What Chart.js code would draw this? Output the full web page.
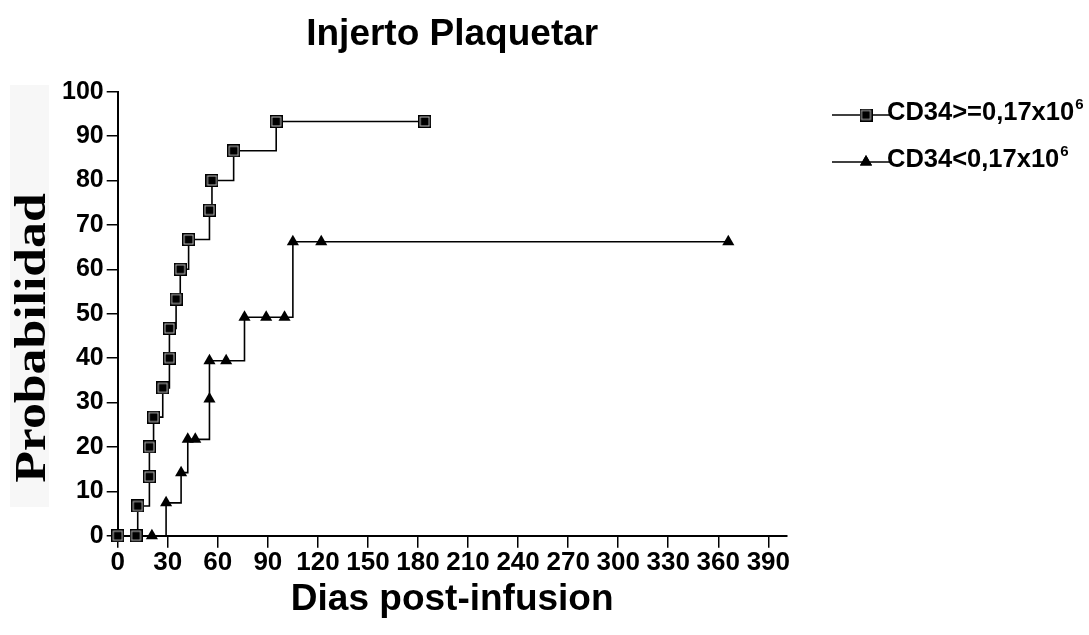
<!DOCTYPE html>
<html>
<head>
<meta charset="utf-8">
<script src="https://cdn.jsdelivr.net/npm/chart.js@4.4.0/dist/chart.umd.min.js"></script>
<style>
  html, body { margin: 0; padding: 0; background: #fff; }
  #wrap { width: 1089px; height: 635px; }
</style>
</head>
<body>
<div id="wrap"><canvas id="myChart"></canvas></div>
<script>
// Kaplan-Meier style curves
const daysHigh = [0, 11, 12, 19, 19, 21.5, 27, 31, 31, 35, 37.5, 42.5, 55, 56.5, 69.5, 95, 184];
const probHigh = [0, 0, 6.7, 13.3, 20, 26.7, 33.3, 40, 46.7, 53.3, 60, 66.7, 73.3, 80, 86.7, 93.3, 93.3];
const daysLow = [0, 20.5, 29, 38, 42, 46.5, 55, 55, 65, 76, 89, 100, 105, 122, 366];
const probLow = [0, 0, 7.4, 14.2, 21.7, 21.7, 30.8, 39.4, 39.4, 49.2, 49.2, 49.2, 66.2, 66.2, 66.2];
const seriesNames = ["CD34>=0,17x10", "CD34<0,17x10"];
const seriesSup = "6";
const chartTitle = "Injerto Plaquetar";
const xTitle = "Dias post-infusion";
const yTitle = "Probabilidad";

const sans = "'Liberation Sans', Arial, sans-serif";
const serif = "'Liberation Serif', 'Times New Roman', serif";

// square marker: black box with a faint white inner ring
function squareMarker() {
  const c = document.createElement("canvas");
  c.width = 13;
  c.height = 13;
  const g = c.getContext("2d");
  g.fillStyle = "#000";
  g.fillRect(0, 0, 13, 13);
  g.strokeStyle = "rgba(255,255,255,0.75)";
  g.lineWidth = 1;
  g.strokeRect(2, 2, 9, 9);
  return c;
}
const sqImg = squareMarker();

const toPoints = (xs, ys) => xs.map((x, i) => ({ x, y: ys[i] }));

const yTitlePlugin = {
  id: "yTitleBox",
  beforeDraw(chart) {
    const { ctx } = chart;
    ctx.save();
    ctx.fillStyle = "#f7f7f7";
    ctx.fillRect(10, 85, 39, 422);
    ctx.translate(45, 338);
    ctx.rotate(-Math.PI / 2);
    ctx.scale(1.15, 1);
    ctx.font = "bold 45px " + serif;
    ctx.fillStyle = "#000";
    ctx.textAlign = "center";
    ctx.textBaseline = "alphabetic";
    ctx.fillText(yTitle, 0, 0);
    ctx.restore();
  },
};

const legendPlugin = {
  id: "sideLegend",
  afterDraw(chart) {
    const { ctx } = chart;
    ctx.save();
    chart.data.datasets.forEach((ds, i) => {
      const y = 115 + i * 47;
      ctx.strokeStyle = "#000";
      ctx.lineWidth = 1.5;
      ctx.beginPath();
      ctx.moveTo(832, y);
      ctx.lineTo(890, y);
      ctx.stroke();
      ctx.fillStyle = "#000";
      Chart.helpers.drawPoint(ctx, {
        pointStyle: ds.pointStyle,
        radius: ds.pointRadius,
        borderWidth: 0,
        rotation: 0,
      }, 866, y);
      if (ds.pointStyle === "triangle") ctx.fill();
      ctx.font = "bold 25.5px " + sans;
      ctx.textAlign = "left";
      ctx.textBaseline = "alphabetic";
      ctx.fillText(ds.label, 887, y + 5);
      const w = ctx.measureText(ds.label).width;
      ctx.font = "bold 15px " + sans;
      ctx.fillText(seriesSup, 887 + w + 1, y - 6);
    });
    ctx.restore();
  },
};

const lineStyle = {
  borderColor: "#000",
  backgroundColor: "#000",
  borderWidth: 1.6,
  stepped: "before",
  fill: false,
  clip: false,
  pointBorderWidth: 0,
};

Chart.defaults.font.family = sans;
Chart.defaults.color = "#000";

new Chart(document.getElementById("myChart"), {
  type: "line",
  data: {
    datasets: [
      {
        ...lineStyle,
        label: seriesNames[0],
        data: toPoints(daysHigh, probHigh),
        pointStyle: sqImg,
        pointRadius: 6.5,
      },
      {
        ...lineStyle,
        label: seriesNames[1],
        data: toPoints(daysLow, probLow),
        pointStyle: "triangle",
        pointRadius: 7,
      },
    ],
  },
  plugins: [yTitlePlugin, legendPlugin],
  options: {
    responsive: true,
    maintainAspectRatio: false,
    animation: false,
    layout: {
      padding: { left: 57.7, right: 302.3, top: 0, bottom: 0 },
    },
    plugins: {
      legend: { display: false },
      tooltip: { enabled: false },
      title: {
        display: true,
        text: chartTitle,
        fullSize: false,
        color: "#000",
        font: { size: 37, weight: "bold" },
        padding: { top: 12.8, bottom: 34.5 },
      },
    },
    scales: {
      x: {
        type: "linear",
        min: 0,
        max: 401,
        afterFit: (scale) => {
          scale.height = 99.3;
        },
        ticks: {
          stepSize: 30,
          includeBounds: false,
          autoSkip: false,
          maxRotation: 0,
          padding: 0,
          color: "#000",
          font: { size: 26, weight: "bold" },
        },
        grid: {
          drawOnChartArea: false,
          drawTicks: true,
          tickLength: 12,
          color: "#000",
          lineWidth: 1.5,
        },
        border: { color: "#000", width: 2 },
        title: {
          display: true,
          text: xTitle,
          color: "#000",
          font: { size: 37, weight: "bold" },
          padding: { top: 0, bottom: 13 },
        },
      },
      y: {
        min: 0,
        max: 100,
        afterFit: (scale) => {
          scale.width = 60;
        },
        ticks: {
          stepSize: 10,
          padding: 3,
          color: "#000",
          font: { size: 25, weight: "bold" },
        },
        grid: {
          drawOnChartArea: false,
          drawTicks: true,
          tickLength: 11,
          color: "#000",
          lineWidth: 1.5,
        },
        border: { color: "#000", width: 2 },
      },
    },
  },
});
</script>
</body>
</html>
